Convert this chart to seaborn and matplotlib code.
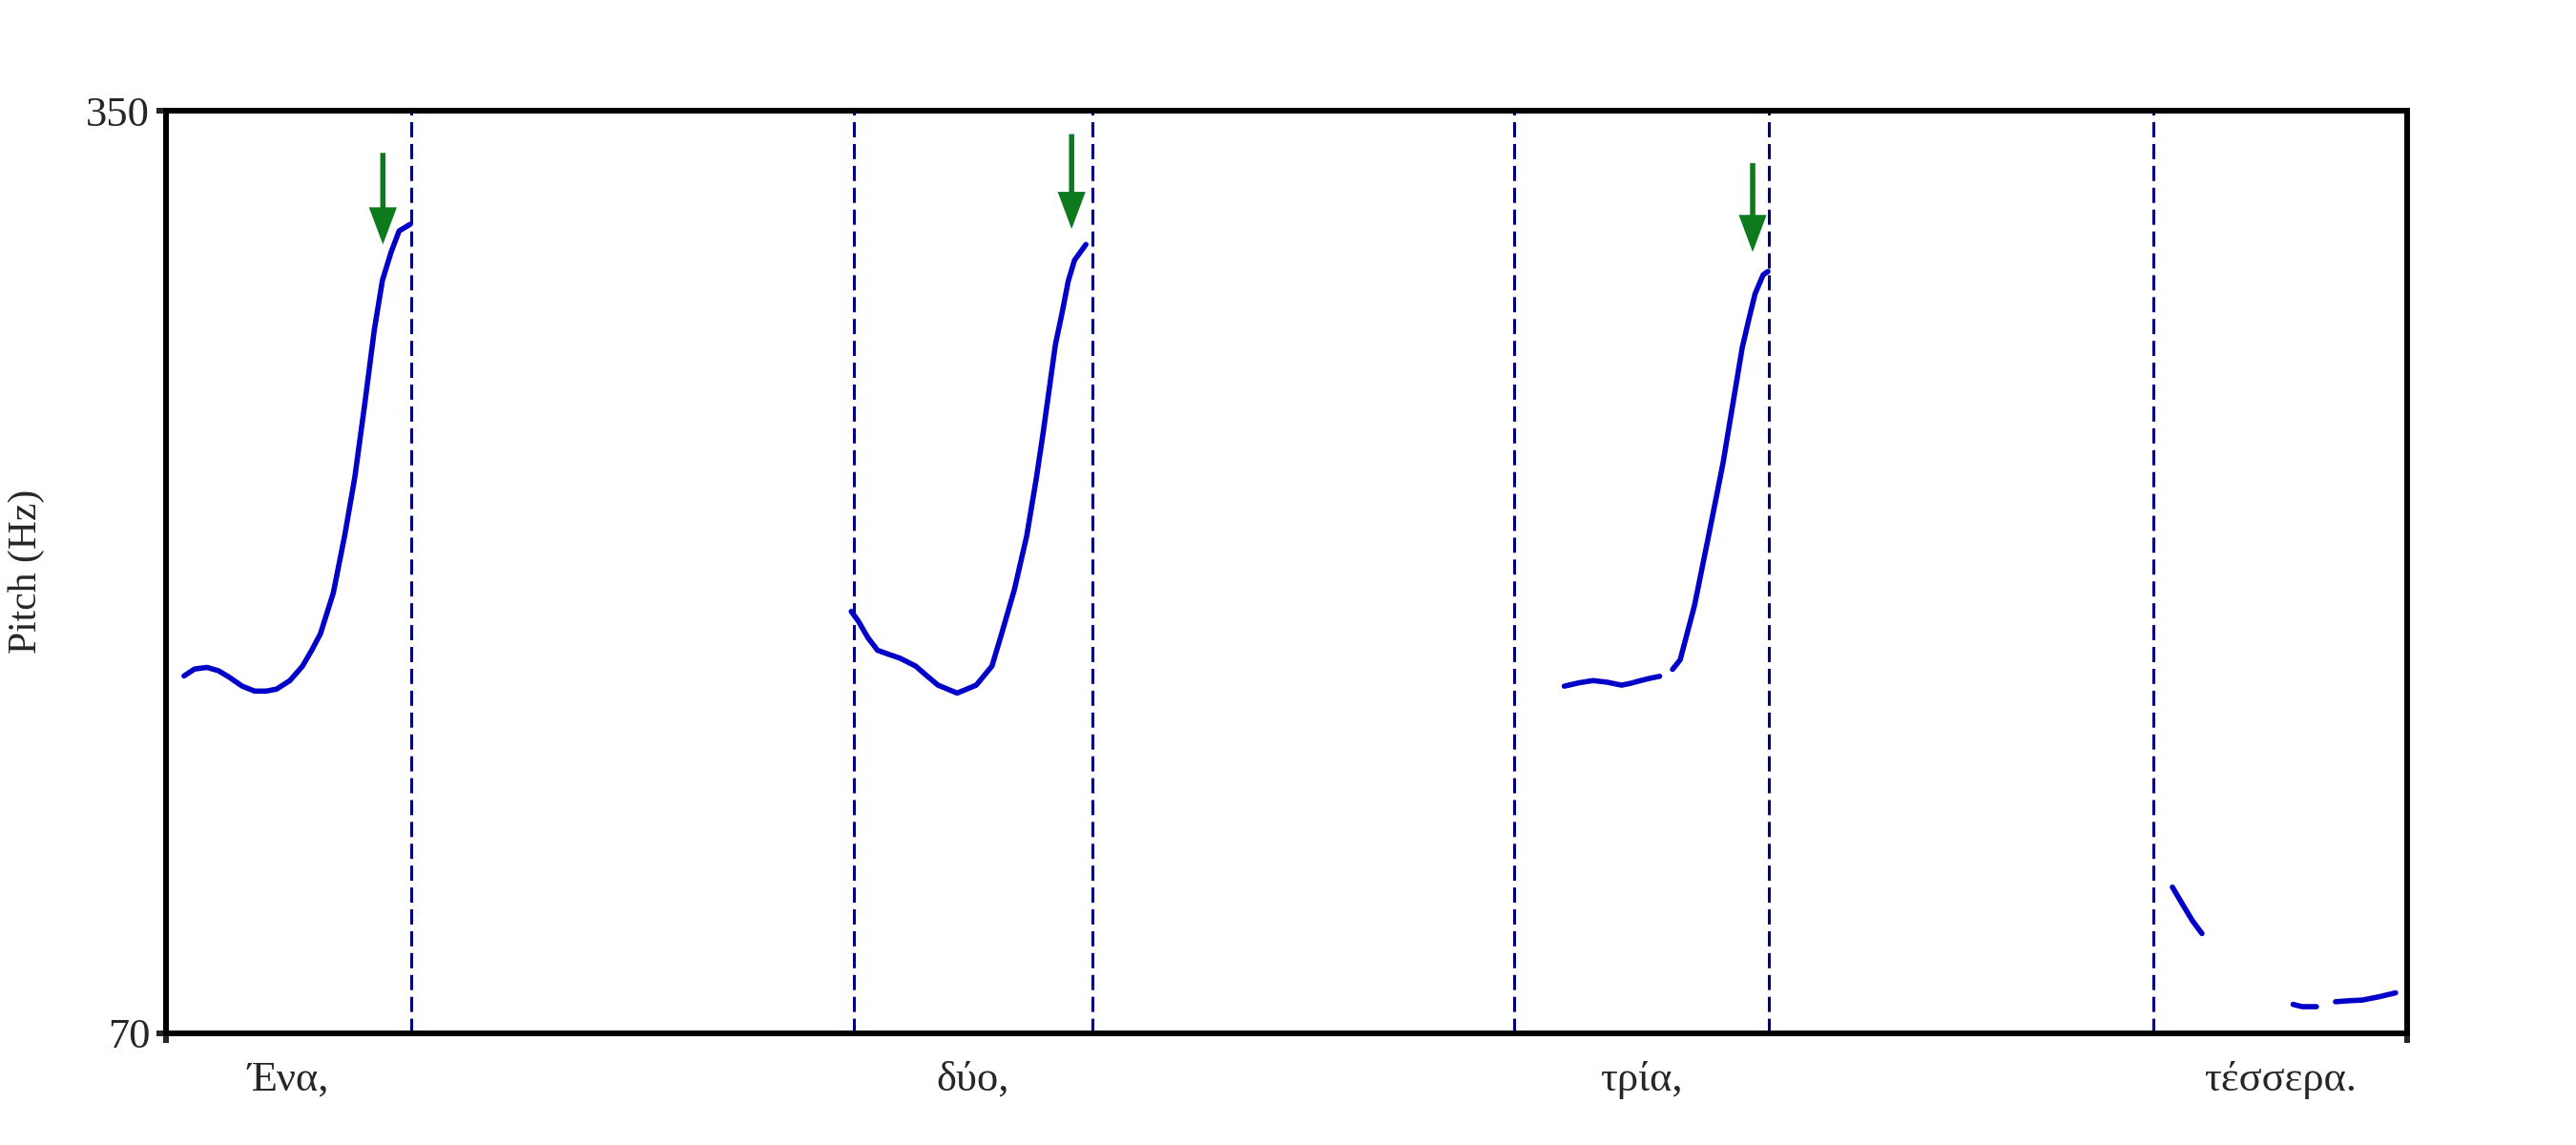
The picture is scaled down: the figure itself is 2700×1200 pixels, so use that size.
import seaborn as sns
import pandas as pd
import matplotlib.pyplot as plt

# pitch track segments (time in s, pitch in Hz)
seg1_t = [0.038, 0.060, 0.086, 0.110, 0.132, 0.160, 0.186, 0.210, 0.232, 0.260, 0.286, 0.305,
          0.324, 0.351, 0.375, 0.396, 0.417, 0.437, 0.454, 0.472, 0.489, 0.512]
seg1_f = [178.4, 180.5, 181.0, 180.0, 178.1, 175.3, 173.8, 173.8, 174.4, 177.0, 181.3, 186.0,
          191.2, 203.6, 221.1, 238.6, 261.0, 283.5, 298.5, 307.0, 313.5, 315.5]
seg2_t = [1.437, 1.452, 1.472, 1.492, 1.515, 1.539, 1.572, 1.595, 1.619, 1.659, 1.699, 1.732,
          1.752, 1.779, 1.805, 1.825, 1.839, 1.852, 1.865, 1.879, 1.892, 1.905, 1.929]
seg2_f = [198.0, 195.0, 190.0, 186.2, 185.0, 183.8, 181.4, 178.5, 175.6, 173.2, 175.6, 181.4,
          191.1, 204.6, 221.0, 238.4, 251.9, 265.4, 279.0, 288.6, 298.3, 304.6, 309.4]
seg3_t = [2.932, 2.962, 2.992, 3.022, 3.052, 3.072, 3.092, 3.112, 3.132]
seg3_f = [175.3, 176.3, 177.0, 176.5, 175.6, 176.2, 177.0, 177.7, 178.3]
seg4_t = [3.159, 3.175, 3.205, 3.232, 3.252, 3.265, 3.285, 3.305, 3.319, 3.332, 3.349, 3.359]
seg4_f = [180.4, 183.3, 199.8, 219.1, 233.6, 243.2, 260.6, 278.0, 286.7, 294.4, 300.2, 301.2]
seg5_t = [4.207, 4.229, 4.249, 4.269]
seg5_f = [114.3, 108.9, 104.1, 100.2]
seg6_t = [4.460, 4.479, 4.509]
seg6_f = [78.7, 78.0, 78.0]
seg7_t = [4.549, 4.577, 4.605, 4.640, 4.675]
seg7_f = [79.5, 79.8, 80.0, 81.0, 82.2]

# interval boundaries and word labels
boundaries = [0.514, 1.442, 1.942, 2.826, 3.360, 4.167]
words = ["Ένα,", "δύο,", "τρία,", "τέσσερα."]
word_t = [0.257, 1.692, 3.093, 4.433]

# green arrows: time, tail Hz, tip Hz
arrow_t = [0.455, 1.899, 3.327]
arrow_tail = [337.2, 342.9, 334.1]
arrow_tip = [309.4, 314.1, 307.1]

t_min, t_max = 0.0, 4.7
f_min, f_max = 70, 350

segs = [(seg1_t, seg1_f), (seg2_t, seg2_f), (seg3_t, seg3_f), (seg4_t, seg4_f),
        (seg5_t, seg5_f), (seg6_t, seg6_f), (seg7_t, seg7_f)]
rows = []
for i, (ts, fs) in enumerate(segs):
    for t, f in zip(ts, fs):
        rows.append({"time": t, "pitch": f, "seg": i})
df = pd.DataFrame(rows)

sns.set_style("white")
plt.rcParams['font.family'] = ['Liberation Serif', 'DejaVu Serif']

fig = plt.figure(figsize=(27, 12), dpi=100)
ax = fig.add_axes([0.0644, 0.0978, 0.8702, 0.8055])

for b in boundaries:
    ax.axvline(b, color="#000080", lw=2.2, dashes=(5.2, 2.3), zorder=1)

sns.lineplot(data=df, x="time", y="pitch", units="seg", estimator=None, sort=False,
             color="#0000C8", linewidth=4.0, ax=ax, zorder=3,
             solid_capstyle="round", solid_joinstyle="round")

for t, a, b in zip(arrow_t, arrow_tail, arrow_tip):
    ax.annotate("", xy=(t, b), xytext=(t, a),
                arrowprops=dict(facecolor="#0e7a1e", edgecolor="#0e7a1e", lw=0,
                                width=4, headwidth=21, headlength=28, shrink=0))

for w, t in zip(words, word_t):
    ax.text(t, -0.062, w, transform=ax.get_xaxis_transform(), ha="center",
            va="baseline", fontsize=32)

ax.set_xlim(t_min, t_max)
ax.set_ylim(f_min, f_max)
ax.set_xticks([t_min, t_max])
ax.set_xticklabels([])
ax.set_yticks([f_min, f_max])
ax.set_yticklabels([str(f_min), str(f_max)])
ax.tick_params(axis="both", direction="out", length=7, width=4.3, labelsize=32, pad=5,
               left=True, bottom=True)
ax.set_xlabel("")
ax.set_ylabel("")
ax.text(-0.062, 0.5, "Pitch (Hz)", transform=ax.transAxes, rotation=90,
        ha="center", va="center", fontsize=30)
for s in ax.spines.values():
    s.set_visible(True)
    s.set_linewidth(4.3)
    s.set_color("black")

fig.savefig("out.png", dpi=100, facecolor="white")
